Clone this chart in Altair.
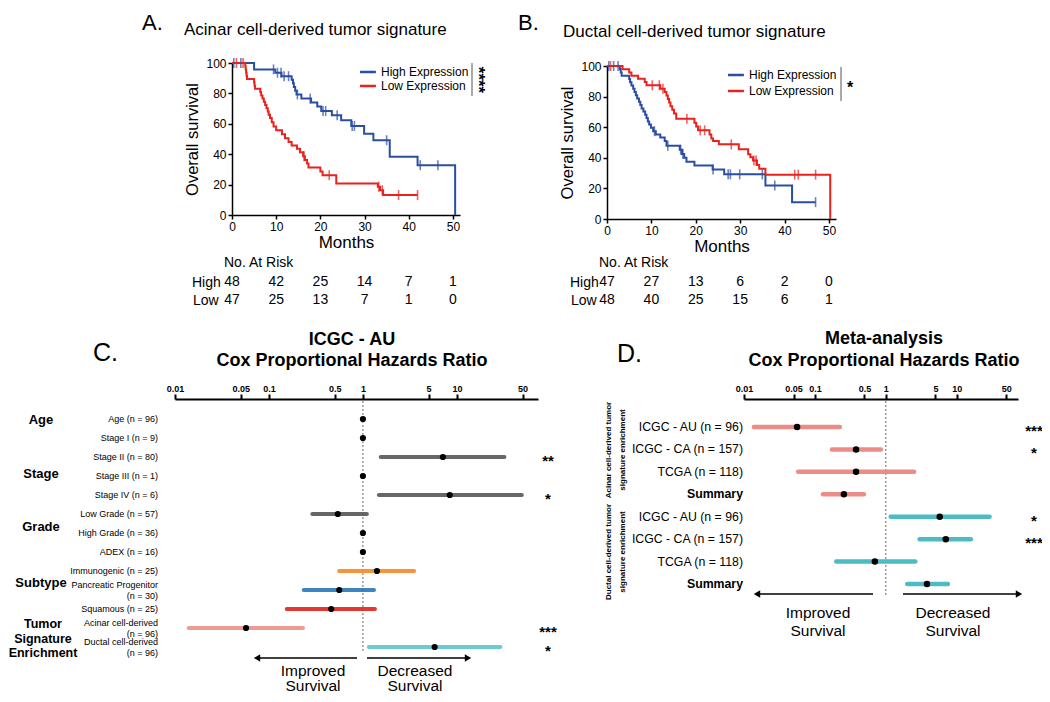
import altair as alt
import pandas as pd

FONT = "Liberation Sans"
W, H = 1034, 686
MARGIN = 8

# ---------------------------------------------------------------- data
months = [0, 10, 20, 30, 40, 50]
groups_km = ["High Expression", "Low Expression"]

# Panel A : acinar cell-derived tumor signature (Kaplan-Meier steps)
a_high_t = [0, 5.0, 9.8, 11.2, 13.5, 13.8, 14.0, 14.3, 14.6, 15.7, 17.9, 19.3, 20.2,
            22.6, 24.7, 27.0, 29.9, 32.0, 35.7, 42.0, 50.5]
a_high_s = [100, 95.8, 93.6, 91.3, 89.0, 86.6, 84.2, 81.8, 79.3, 76.6, 74.0, 71.3, 68.5,
            65.6, 62.4, 58.6, 53.5, 49.2, 38.3, 32.8, 0]
a_high_c = [0.4, 2.0, 9.4, 10.3, 11.1, 11.8, 12.8, 14.8, 17.7, 20.6, 21.2, 23.8, 27.2,
            27.7, 35.0, 42.6, 46.6]
a_low_t = [0, 3.0, 3.1, 3.2, 3.3, 3.4, 5.0, 5.1, 5.2, 6.4, 6.6, 6.9, 7.2, 7.5, 7.8, 8.1,
           8.3, 8.6, 9.0, 9.4, 10.0, 11.3, 12.0, 12.8, 13.5, 14.7, 15.4, 16.1, 16.5, 17.0,
           17.3, 20.0, 20.5, 23.6, 33.0, 33.5, 34.2, 42.0]
a_low_s = [100, 97.9, 95.7, 93.6, 91.5, 89.4, 87.2, 85.1, 83.0, 80.9, 78.7, 76.6, 74.5,
           72.3, 70.2, 68.1, 66.0, 63.8, 61.0, 58.2, 55.8, 53.2, 50.5, 48.0, 45.8, 43.6,
           41.3, 38.6, 36.2, 33.8, 31.3, 28.6, 26.2, 20.8, 18.6, 16.3, 13.1, 13.1]
a_low_c = [1.0, 2.5, 16.3, 22.0, 33.2, 34.0, 37.7, 42.0]
a_risk_high = [48, 42, 25, 14, 7, 1]
a_risk_low = [47, 25, 13, 7, 1, 0]

# Panel B : ductal cell-derived tumor signature
b_high_t = [0, 2.9, 3.1, 3.3, 5.0, 5.2, 5.5, 5.9, 6.2, 6.5, 6.8, 7.2, 7.5, 7.8, 8.2, 8.6,
            8.9, 9.2, 9.5, 9.9, 10.4, 11.0, 12.0, 13.0, 13.4, 16.4, 16.9, 17.4, 17.9, 19.7,
            23.8, 26.4, 35.7, 41.7, 47.0]
b_high_s = [100, 97.9, 95.7, 93.6, 91.5, 89.4, 87.2, 85.1, 83.0, 80.9, 78.7, 76.6, 74.5,
            72.3, 70.2, 68.1, 66.0, 63.8, 61.7, 59.6, 57.4, 55.3, 53.2, 51.0, 47.8, 45.3,
            42.5, 40.0, 37.5, 34.9, 32.3, 29.2, 21.9, 11.0, 11.0]
b_high_c = [0.4, 1.5, 2.5, 10.7, 13.7, 16.6, 17.1, 23.9, 27.3, 27.8, 29.9, 35.0, 37.8, 47.0]
b_low_t = [0, 3.5, 5.0, 5.5, 7.0, 8.5, 8.9, 12.0, 13.0, 13.4, 13.7, 14.0, 14.3, 14.7, 15.1,
           15.6, 19.7, 20.1, 20.5, 23.1, 23.5, 23.9, 25.2, 29.7, 31.8, 32.3, 32.9, 33.8,
           34.3, 35.7, 50.3]
b_low_s = [100, 97.9, 95.8, 93.7, 91.6, 89.5, 87.4, 85.2, 83.0, 80.8, 78.4, 76.1, 73.7,
           71.4, 69.0, 65.6, 62.9, 60.4, 58.0, 55.3, 52.6, 51.0, 48.8, 45.6, 42.3, 40.3,
           38.2, 35.3, 32.9, 29.0, 0]
b_low_c = [0.8, 10.2, 11.8, 12.6, 18.0, 21.0, 22.0, 28.0, 33.1, 33.6, 42.3, 43.1, 47.0]
b_risk_high = [47, 27, 13, 6, 2, 0]
b_risk_low = [48, 40, 25, 15, 6, 1]

# Panel C : ICGC - AU Cox proportional hazards
hr_ticks = [0.01, 0.05, 0.1, 0.5, 1, 5, 10, 50]
c_label1 = ["Age (n = 96)", "Stage I (n = 9)", "Stage II (n = 80)", "Stage III (n = 1)",
            "Stage IV (n = 6)", "Low Grade (n = 57)", "High Grade (n = 36)", "ADEX (n = 16)",
            "Immunogenic (n = 25)", "Pancreatic Progenitor", "Squamous (n = 25)",
            "Acinar cell-derived", "Ductal cell-derived"]
c_label2 = ["", "", "", "", "", "", "", "", "", "(n = 30)", "", "(n = 96)", "(n = 96)"]
c_hr = [1, 1, 7.1, 1, 8.4, 0.54, 1, 1, 1.41, 0.56, 0.46, 0.057, 5.8]
c_lo = [1, 1, 1.55, 1, 1.48, 0.29, 1, 1, 0.56, 0.235, 0.155, 0.014, 1.16]
c_hi = [1, 1, 32, 1, 49, 1.1, 1, 1, 3.5, 1.31, 1.34, 0.23, 29]
c_grp = ["Age", "Stage", "Stage", "Stage", "Stage", "Grade", "Grade", "Grade",
         "Immunogenic", "Pancreatic Progenitor", "Squamous", "Acinar", "Ductal"]
c_sig = ["", "", "**", "", "*", "", "", "", "", "", "", "***", "*"]
c_groups = ["Age", "Stage", "Grade", "Immunogenic", "Pancreatic Progenitor", "Squamous",
            "Acinar", "Ductal"]
c_colors = ["#5a5a5a", "#5a5a5a", "#5a5a5a", "#f68a2a", "#2b7bba", "#e3261f", "#ec938c",
            "#5ec6ce"]

# Panel D : meta-analysis
d_label = ["ICGC - AU (n = 96)", "ICGC - CA (n = 157)", "TCGA (n = 118)", "Summary",
           "ICGC - AU (n = 96)", "ICGC - CA (n = 157)", "TCGA (n = 118)", "Summary"]
d_hr = [0.056, 0.38, 0.38, 0.256, 5.75, 7.0, 0.70, 3.8]
d_lo = [0.0138, 0.174, 0.058, 0.13, 1.17, 3.0, 0.20, 2.0]
d_hi = [0.225, 0.85, 2.5, 0.49, 29, 15.8, 2.6, 7.5]
d_grp = ["Acinar"] * 4 + ["Ductal"] * 4
d_sig = ["***", "*", "", "", "*", "***", "", ""]
d_summary = [False, False, False, True, False, False, False, True]
d_groups = ["Acinar", "Ductal"]
d_colors = ["#ea8680", "#42b7bf"]

BLUE = "#2b4ea3"
RED = "#e8221e"


# ---------------------------------------------------------------- helpers
def px(v):
    return v - MARGIN


def txt(text, x, y, size, weight="normal", align="left", baseline="alphabetic",
        angle=None, line_height=None):
    props = dict(text=text, font=FONT, fontSize=size, fontWeight=weight, align=align,
                 baseline=baseline, color="black")
    if angle is not None:
        props["angle"] = angle
    if line_height is not None:
        props["lineHeight"] = line_height
    return alt.Chart().mark_text(**props).encode(x=alt.value(px(x)), y=alt.value(px(y)))


def step_value(ts, ss, t):
    v = ss[0]
    for ti, si in zip(ts, ss):
        if ti <= t:
            v = si
    return v


def km_panel(ht, hs, hc, lt, ls, lc, risk_h, risk_l, x0, x_end, y0, y100, leg_x, leg_y,
             row_pad, label_x):
    xs = alt.Scale(domain=[0, 51.6], range=[px(x0), px(x_end)], nice=False, zero=False)
    ys = alt.Scale(domain=[0, 100], range=[px(y0), px(y100)], nice=False, zero=False)
    cs = alt.Scale(domain=groups_km, range=[BLUE, RED])

    curve = pd.DataFrame({"t": ht + lt, "s": hs + ls,
                          "g": [groups_km[0]] * len(ht) + [groups_km[1]] * len(lt)})
    cens = pd.DataFrame({
        "t": hc + lc,
        "s": [step_value(ht, hs, t) for t in hc] + [step_value(lt, ls, t) for t in lc],
        "g": [groups_km[0]] * len(hc) + [groups_km[1]] * len(lc)})
    risk = pd.DataFrame({"m": months * 2, "n": risk_h + risk_l,
                         "r": [0] * len(months) + [1] * len(months)})

    x_axis = alt.Axis(orient="bottom", offset=px(y0) - H, values=months, title="Months",
                      titleFontSize=17, titleFontWeight="normal", titleColor="black",
                      titlePadding=2, labelFontSize=12, labelColor="black", labelPadding=2,
                      tickSize=4, tickWidth=1.5, tickColor="black", domainColor="black",
                      domainWidth=1.5, grid=False, labelFlush=False, labelOverlap=False)
    y_axis = alt.Axis(orient="left", offset=-px(x0), values=[0, 20, 40, 60, 80, 100],
                      title="Overall survival", titleFontSize=16.5, titleFontWeight="normal",
                      titleColor="black", titlePadding=5, labelFontSize=12,
                      labelColor="black", labelPadding=2, tickSize=4, tickWidth=1.5,
                      tickColor="black", domainColor="black", domainWidth=1.5, grid=False,
                      labelFlush=False, labelOverlap=False)
    legend = alt.Legend(orient="none", legendX=px(leg_x), legendY=px(leg_y), title=None,
                        symbolType="M-1.4,0L1.4,0", symbolSize=144, symbolStrokeWidth=2.5,
                        labelFontSize=12, labelColor="black", labelOffset=6,
                        rowPadding=row_pad, clipHeight=12, padding=0)

    line = alt.Chart(curve).mark_line(interpolate="step-after", strokeWidth=2).encode(
        x=alt.X("t:Q", scale=xs, axis=x_axis),
        y=alt.Y("s:Q", scale=ys, axis=y_axis),
        color=alt.Color("g:N", scale=cs, legend=legend),
        detail="g:N")
    ticks = alt.Chart(cens).mark_tick(orient="vertical", size=10, thickness=1.6).encode(
        x=alt.X("t:Q", scale=xs, axis=None),
        y=alt.Y("s:Q", scale=ys, axis=None),
        color=alt.Color("g:N", scale=cs, legend=None))
    risk_txt = alt.Chart(risk).mark_text(fontSize=14, baseline="middle", color="black").encode(
        x=alt.X("m:Q", scale=xs, axis=None),
        y=alt.Y("r:Q", scale=alt.Scale(domain=[0, 1], range=[px(282), px(300)], nice=False,
                                        zero=False), axis=None),
        text="n:Q")
    extra = [
        txt("No. At Risk", x0 - 8, 267, 14),
        txt("High", label_x, 287, 14),
        txt("Low", label_x + 1, 305, 14),
    ]
    return [line, ticks, risk_txt] + extra


def forest_axis(y_page):
    return alt.Axis(orient="top", offset=-px(y_page), values=hr_ticks, format="~g",
                    title=None, labelFontSize=9, labelFontWeight="bold", labelColor="black",
                    labelPadding=1, tickSize=5, tickWidth=2, tickColor="black",
                    domainWidth=2, domainColor="black", grid=False, labelFlush=False,
                    labelOverlap=False)


# ---------------------------------------------------------------- panel A / B
layers = []
layers += km_panel(a_high_t, a_high_s, a_high_c, a_low_t, a_low_s, a_low_c,
                   a_risk_high, a_risk_low, 232, 460, 215, 63, 360, 66, 2, 192)
layers += km_panel(b_high_t, b_high_s, b_high_c, b_low_t, b_low_s, b_low_c,
                   b_risk_high, b_risk_low, 607, 836, 219, 66, 728, 69, 4, 570)

# significance brackets of the KM legends
layers.append(alt.Chart().mark_rule(color="#555", strokeWidth=1).encode(
    x=alt.value(px(472)), y=alt.value(px(63)), y2=alt.value(px(96))))
layers.append(txt("****", 478, 80, 17, weight="bold", align="center", baseline="middle",
                  angle=90))
layers.append(alt.Chart().mark_rule(color="#555", strokeWidth=1).encode(
    x=alt.value(px(841)), y=alt.value(px(67)), y2=alt.value(px(101))))
layers.append(txt("*", 850, 93, 16, weight="bold", align="center"))

layers += [
    txt("A.", 142, 30, 22),
    txt("Acinar cell-derived tumor signature", 184, 35, 17),
    txt("B.", 518, 30, 22),
    txt("Ductal cell-derived tumor signature", 563, 37, 17),
]

# ---------------------------------------------------------------- panel C
c_df = pd.DataFrame({"row": list(range(len(c_hr))), "hr": c_hr, "lo": c_lo, "hi": c_hi,
                     "grp": c_grp, "sig": c_sig, "l1": c_label1, "l2": c_label2})
xs_c = alt.Scale(type="log", domain=[0.01, 73], range=[px(175), px(538)], nice=False)
ys_c = alt.Scale(domain=[0, 12], range=[px(419), px(647)], nice=False, zero=False)
cs_c = alt.Scale(domain=c_groups, range=c_colors)

layers.append(alt.Chart(pd.DataFrame({"v": [1.0]})).mark_rule(
    strokeDash=[2, 2], color="#666", strokeWidth=1).encode(
    x=alt.X("v:Q", scale=xs_c, axis=None), y=alt.value(px(401)), y2=alt.value(px(652))))
layers.append(alt.Chart(c_df).transform_filter("datum.lo < datum.hi").mark_rule(
    strokeWidth=4.2, strokeCap="round", opacity=0.92).encode(
    x=alt.X("lo:Q", scale=xs_c, axis=None), x2="hi:Q",
    y=alt.Y("row:Q", scale=ys_c, axis=None),
    color=alt.Color("grp:N", scale=cs_c, legend=None)))
layers.append(alt.Chart(c_df).mark_circle(size=38, color="black", opacity=1).encode(
    x=alt.X("hr:Q", scale=xs_c, axis=forest_axis(399)),
    y=alt.Y("row:Q", scale=ys_c, axis=None)))
layers.append(alt.Chart(c_df).transform_filter("datum.l2 == ''").mark_text(
    align="right", baseline="middle", fontSize=9, color="black").encode(
    x=alt.value(px(158)), y=alt.Y("row:Q", scale=ys_c, axis=None), text="l1:N"))
layers.append(alt.Chart(c_df).transform_filter("datum.l2 != ''").mark_text(
    align="right", baseline="middle", fontSize=9, color="black", dy=-5.5).encode(
    x=alt.value(px(158)), y=alt.Y("row:Q", scale=ys_c, axis=None), text="l1:N"))
layers.append(alt.Chart(c_df).transform_filter("datum.l2 != ''").mark_text(
    align="right", baseline="middle", fontSize=9, color="black", dy=5.5).encode(
    x=alt.value(px(158)), y=alt.Y("row:Q", scale=ys_c, axis=None), text="l2:N"))
layers.append(alt.Chart(c_df).mark_text(
    align="center", baseline="middle", fontSize=15, fontWeight="bold", color="black",
    dy=4).encode(
    x=alt.value(px(548)), y=alt.Y("row:Q", scale=ys_c, axis=None), text="sig:N"))

layers += [
    txt("Age", 41, 424, 13, weight="bold", align="center"),
    txt("Stage", 41, 478, 13, weight="bold", align="center"),
    txt("Grade", 41, 531, 13, weight="bold", align="center"),
    txt("Subtype", 41, 587, 13, weight="bold", align="center"),
    txt(["Tumor", "Signature", "Enrichment"], 43, 628, 12.5, weight="bold", align="center",
        line_height=14.5),
    txt("C.", 93, 361, 25),
    txt("ICGC - AU", 352, 345, 18, weight="bold", align="center"),
    txt("Cox Proportional Hazards Ratio", 352, 366, 18, weight="bold", align="center"),
    txt(["Improved", "Survival"], 313, 676, 15.5, align="center", line_height=15),
    txt(["Decreased", "Survival"], 415, 676, 15.5, align="center", line_height=15),
]
layers.append(alt.Chart().mark_rule(color="black", strokeWidth=1.5).encode(
    x=alt.value(px(258)), x2=alt.value(px(357)), y=alt.value(px(658))))
layers.append(alt.Chart().mark_rule(color="black", strokeWidth=1.5).encode(
    x=alt.value(px(367)), x2=alt.value(px(467)), y=alt.value(px(658))))
layers.append(alt.Chart().mark_point(shape="triangle-left", filled=True, size=55,
                                     color="black", opacity=1).encode(
    x=alt.value(px(257)), y=alt.value(px(658))))
layers.append(alt.Chart().mark_point(shape="triangle-right", filled=True, size=55,
                                     color="black", opacity=1).encode(
    x=alt.value(px(468)), y=alt.value(px(658))))

# ---------------------------------------------------------------- panel D
d_df = pd.DataFrame({"row": list(range(len(d_hr))), "hr": d_hr, "lo": d_lo, "hi": d_hi,
                     "grp": d_grp, "sig": d_sig, "lab": d_label, "summ": d_summary})
xs_d = alt.Scale(type="log", domain=[0.01, 73], range=[px(744), px(1018)], nice=False)
ys_d = alt.Scale(domain=[0, 7], range=[px(427), px(584)], nice=False, zero=False)
cs_d = alt.Scale(domain=d_groups, range=d_colors)

layers.append(alt.Chart(pd.DataFrame({"v": [1.0]})).mark_rule(
    strokeDash=[2, 2], color="#666", strokeWidth=1).encode(
    x=alt.X("v:Q", scale=xs_d, axis=None), y=alt.value(px(401)), y2=alt.value(px(597))))
layers.append(alt.Chart(d_df).mark_rule(strokeWidth=4.5, strokeCap="round",
                                        opacity=0.95).encode(
    x=alt.X("lo:Q", scale=xs_d, axis=None), x2="hi:Q",
    y=alt.Y("row:Q", scale=ys_d, axis=None),
    color=alt.Color("grp:N", scale=cs_d, legend=None)))
layers.append(alt.Chart(d_df).mark_circle(size=42, color="black", opacity=1).encode(
    x=alt.X("hr:Q", scale=xs_d, axis=forest_axis(399)),
    y=alt.Y("row:Q", scale=ys_d, axis=None)))
layers.append(alt.Chart(d_df).transform_filter("!datum.summ").mark_text(
    align="right", baseline="middle", fontSize=12.3, color="black").encode(
    x=alt.value(px(743)), y=alt.Y("row:Q", scale=ys_d, axis=None), text="lab:N"))
layers.append(alt.Chart(d_df).transform_filter("datum.summ").mark_text(
    align="right", baseline="middle", fontSize=12.3, fontWeight="bold", color="black").encode(
    x=alt.value(px(743)), y=alt.Y("row:Q", scale=ys_d, axis=None), text="lab:N"))
layers.append(alt.Chart(d_df).mark_text(
    align="center", baseline="middle", fontSize=15, fontWeight="bold", color="black",
    dy=4).encode(
    x=alt.value(px(1034)), y=alt.Y("row:Q", scale=ys_d, axis=None), text="sig:N"))

layers += [
    txt(["Acinar cell-derived tumor", "signature enrichment"], 611, 450, 8, weight="bold",
        align="center", angle=270, line_height=13.5),
    txt(["Ductal cell-derived tumor", "signature enrichment"], 611, 552, 8, weight="bold",
        align="center", angle=270, line_height=13.5),
    txt("D.", 617, 362, 25),
    txt("Meta-analysis", 884, 344, 18, weight="bold", align="center"),
    txt("Cox Proportional Hazards Ratio", 884, 366, 18, weight="bold", align="center"),
    txt(["Improved", "Survival"], 818, 618, 15.5, align="center", line_height=18),
    txt(["Decreased", "Survival"], 953, 618, 15.5, align="center", line_height=18),
]
layers.append(alt.Chart().mark_rule(color="black", strokeWidth=1.5).encode(
    x=alt.value(px(758)), x2=alt.value(px(873)), y=alt.value(px(594))))
layers.append(alt.Chart().mark_rule(color="black", strokeWidth=1.5).encode(
    x=alt.value(px(903)), x2=alt.value(px(1018)), y=alt.value(px(594))))
layers.append(alt.Chart().mark_point(shape="triangle-left", filled=True, size=55,
                                     color="black", opacity=1).encode(
    x=alt.value(px(757)), y=alt.value(px(594))))
layers.append(alt.Chart().mark_point(shape="triangle-right", filled=True, size=55,
                                     color="black", opacity=1).encode(
    x=alt.value(px(1019)), y=alt.value(px(594))))

# ---------------------------------------------------------------- assemble
chart = alt.layer(*layers).resolve_scale(
    x="independent", y="independent", color="independent"
).properties(
    width=W, height=H, padding=0, autosize=alt.AutoSizeParams(type="none")
).configure(font=FONT).configure_view(stroke=None)

chart.save("out.html", embed_options={"renderer": "svg", "actions": False})
